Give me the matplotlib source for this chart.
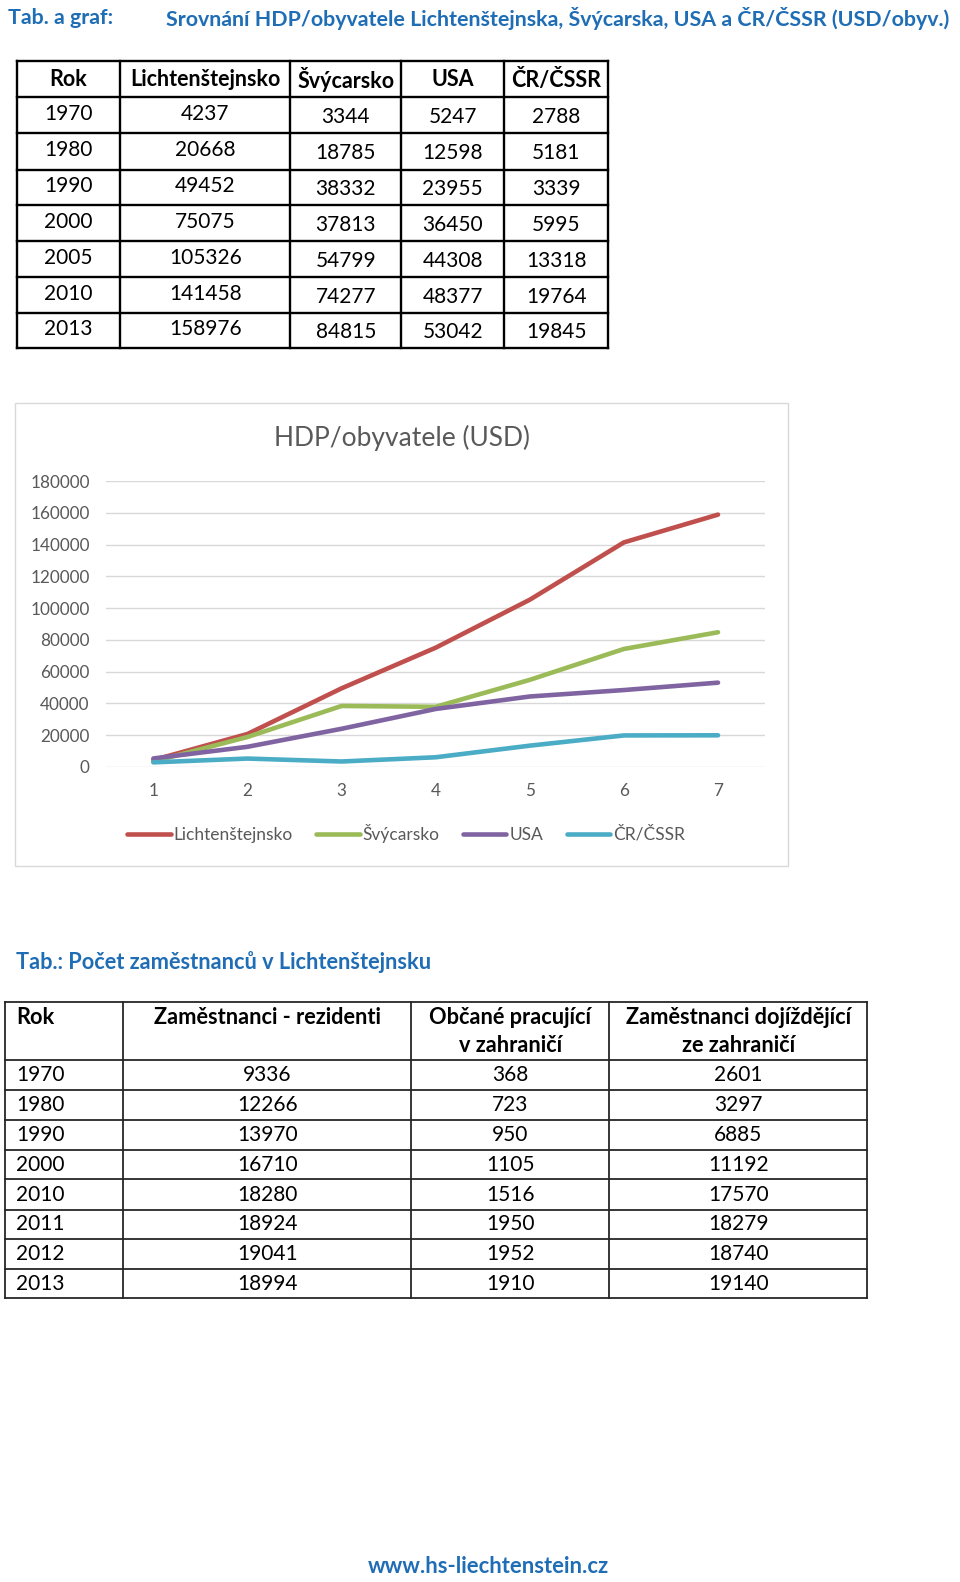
import matplotlib
matplotlib.use('Agg')
import matplotlib.pyplot as plt
from matplotlib.patches import Rectangle

plt.rcParams['font.family'] = ['Lato', 'DejaVu Sans']

# --- data ---
roky_hdp = ['1970', '1980', '1990', '2000', '2005', '2010', '2013']
hdp_header = ['Rok', 'Lichtenštejnsko', 'Švýcarsko', 'USA', 'ČR/ČSSR']
lichtenstejnsko = [4237, 20668, 49452, 75075, 105326, 141458, 158976]
svycarsko = [3344, 18785, 38332, 37813, 54799, 74277, 84815]
usa = [5247, 12598, 23955, 36450, 44308, 48377, 53042]
cr_cssr = [2788, 5181, 3339, 5995, 13318, 19764, 19845]
serie_barvy = ['#C0504D', '#9BBB59', '#8064A2', '#4BACC6']

roky_zam = ['1970', '1980', '1990', '2000', '2010', '2011', '2012', '2013']
zam_header = ['Rok', 'Zaměstnanci - rezidenti', 'Občané pracující\nv zahraničí',
              'Zaměstnanci dojíždějící\nze zahraničí']
rezidenti = [9336, 12266, 13970, 16710, 18280, 18924, 19041, 18994]
v_zahranici = [368, 723, 950, 1105, 1516, 1950, 1952, 1910]
dojizdejici = [2601, 3297, 6885, 11192, 17570, 18279, 18740, 19140]

blue = '#1F6DB5'
W, H = 952, 1568  # working coordinates (reference as seen)

fig = plt.figure(figsize=(9.6, 15.82), dpi=100)
bg = fig.add_axes([0, 0, 1, 1])
bg.set_xlim(0, W)
bg.set_ylim(H, 0)
bg.axis('off')

# heading
bg.text(8, 18, 'Tab. a graf:', color=blue, fontsize=15.4, fontweight='bold',
        va='center', ha='left')
bg.text(165, 18, 'Srovnání HDP/obyvatele Lichtenštejnska, Švýcarska, USA a ČR/ČSSR (USD/obyv.)',
        color=blue, fontsize=15.4, fontweight='bold', va='center', ha='left')

# table 1
cols1 = [17, 119, 288, 398, 500, 603]
rows1 = [60, 96, 132, 168, 203, 239, 275, 310, 345]
for x in cols1:
    bg.plot([x, x], [rows1[0], rows1[-1]], color='black', lw=1.7)
for y in rows1:
    bg.plot([cols1[0], cols1[-1]], [y, y], color='black', lw=1.7)
for j, h in enumerate(hdp_header):
    cx = (cols1[j] + cols1[j + 1]) / 2
    bg.text(cx, (rows1[0] + rows1[1]) / 2 + 1, h, fontsize=15.5, fontweight='bold',
            ha='center', va='center')
tab1 = list(zip(roky_hdp, lichtenstejnsko, svycarsko, usa, cr_cssr))
for i, row in enumerate(tab1):
    cy = (rows1[i + 1] + rows1[i + 2]) / 2
    for j, v in enumerate(row):
        cx = (cols1[j] + cols1[j + 1]) / 2
        off = -1 if j < 2 else 2
        bg.text(cx, cy + off, str(v), fontsize=15, ha='center', va='center')

# chart frame
bg.add_patch(Rectangle((15, 399), 766, 459, fill=False, edgecolor='#D9D9D9', lw=1))
bg.text(399, 434, 'HDP/obyvatele (USD)', fontsize=19, color='#595959',
        ha='center', va='center')

ax = fig.add_axes([105.4 / W, 1 - 760 / H, 653.3 / W, 283 / H])
x = range(1, 8)
series = [lichtenstejnsko, svycarsko, usa, cr_cssr]
names = hdp_header[1:]
for s, n, c in zip(series, names, serie_barvy):
    ax.plot(x, s, color=c, lw=3.3, label=n, solid_capstyle='round', solid_joinstyle='round')
ax.set_xlim(0.5, 7.5)
ax.set_ylim(0, 180000)
ax.set_yticks(range(0, 180001, 20000))
ax.set_xticks(list(x))
ax.grid(axis='y', color='#D9D9D9', lw=1)
ax.set_axisbelow(True)
for sp in ax.spines.values():
    sp.set_visible(False)
ax.tick_params(length=0, colors='#595959', labelsize=12.3)
ax.tick_params(axis='y', pad=12)
ax.tick_params(axis='x', pad=12)
ax.legend(loc='center', bbox_to_anchor=(0.455, -0.233), ncol=4, frameon=False,
          fontsize=12.5, handlelength=2.5, handletextpad=0.17, columnspacing=1.35,
          labelcolor='#595959')

# table 2
bg.text(16, 953, 'Tab.: Počet zaměstnanců v Lichtenštejnsku', color=blue, fontsize=15.7,
        fontweight='bold', ha='left', va='center')
cols2 = [5, 122, 408, 604, 860]
rows2 = [993, 1051, 1080, 1110, 1140, 1169, 1199, 1228, 1258, 1287]
for xx in cols2:
    bg.plot([xx, xx], [rows2[0], rows2[-1]], color='#262626', lw=1.3)
for yy in rows2:
    bg.plot([cols2[0], cols2[-1]], [yy, yy], color='#262626', lw=1.3)
for j, h in enumerate(zam_header):
    lines = h.split('\n')
    for k, ln in enumerate(lines):
        if j == 0:
            bg.text(16, 1008, ln, fontsize=15.7, fontweight='bold', ha='left', va='center')
        else:
            cx = (cols2[j] + cols2[j + 1]) / 2
            bg.text(cx, 1008 + 28 * k, ln, fontsize=15.7, fontweight='bold',
                    ha='center', va='center')
tab2 = list(zip(roky_zam, rezidenti, v_zahranici, dojizdejici))
for i, row in enumerate(tab2):
    cy = (rows2[i + 1] + rows2[i + 2]) / 2
    for j, v in enumerate(row):
        if j == 0:
            bg.text(16, cy, str(v), fontsize=15, ha='left', va='center')
        else:
            cx = (cols2[j] + cols2[j + 1]) / 2
            bg.text(cx, cy, str(v), fontsize=15, ha='center', va='center')

bg.text(484, 1553, 'www.hs-liechtenstein.cz', color=blue, fontsize=15.8,
        fontweight='bold', ha='center', va='center')

fig.savefig('out.png', dpi=100)
